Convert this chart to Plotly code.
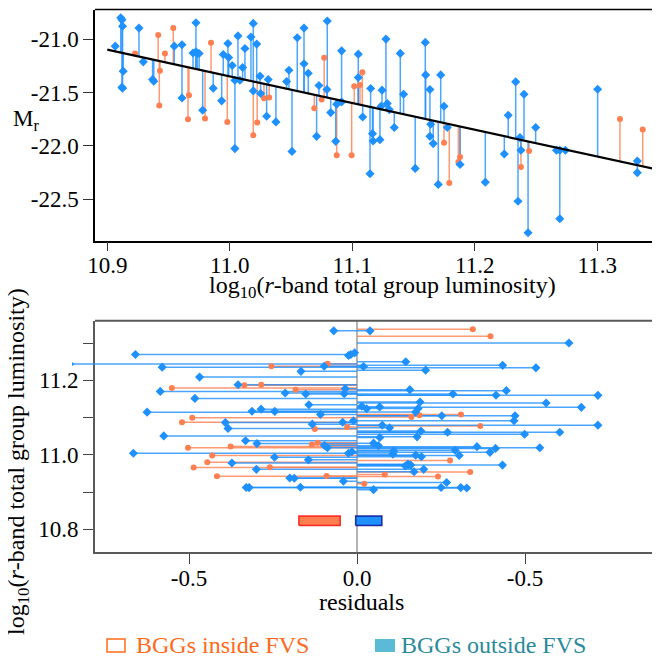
import numpy as np
import plotly.graph_objects as go

# BGGs outside the FVS (blue): log10 group luminosity, absolute magnitude M_r
out_logl = [10.9065, 10.9110, 10.9120, 10.9125, 10.9130, 10.9120, 10.9125, 10.9259,
            10.9294, 10.9370, 10.9380, 10.9547, 10.9610, 10.9610, 10.9724, 10.9700,
            10.9724, 10.9735, 10.9750, 10.9779, 10.9865, 10.9934, 10.9947, 10.9985,
            10.9991, 11.0020, 11.0042, 11.0042, 11.0067, 11.0083, 11.0105, 11.0124,
            11.0173, 11.0192, 11.0192, 11.0220, 11.0247, 11.0252, 11.0301, 11.0314,
            11.0377, 11.0464, 11.0483, 11.0508, 11.0551, 11.0606, 11.0606, 11.0641,
            11.0709, 11.0728, 11.0793, 11.0796, 11.0824, 11.0865, 11.0873, 11.0913,
            11.0913, 11.1049, 11.1049, 11.1085, 11.1150, 11.1145, 11.1165, 11.1170,
            11.1226, 11.1243, 11.1235, 11.1275, 11.1286, 11.1302, 11.1343, 11.1392,
            11.1419, 11.1514, 11.1596, 11.1599, 11.1634, 11.1640, 11.1634, 11.1661,
            11.1702, 11.1722, 11.1749, 11.1776, 11.1880, 11.2086, 11.2241, 11.2273,
            11.2334, 11.2353, 11.2369, 11.2377, 11.2402, 11.2435, 11.2497, 11.2667,
            11.2694, 11.2694, 11.2740, 11.3003, 11.3327, 11.3327]
out_mr = [-21.066, -20.800, -20.820, -20.880, -21.300, -21.450, -21.460, -20.897,
          -21.213, -21.378, -21.394, -21.066, -21.053, -21.551, -20.847, -21.130,
          -21.120, -21.130, -21.135, -21.666, -21.460, -21.578, -21.144, -21.041,
          -21.172, -21.247, -21.385, -22.025, -20.970, -21.385, -21.266, -21.088,
          -20.980, -20.853, -21.485, -21.047, -21.347, -21.509, -21.722, -21.378,
          -21.775, -21.397, -21.291, -22.051, -20.988, -20.897, -21.231, -21.319,
          -21.910, -21.434, -21.472, -20.831, -21.688, -21.957, -21.610, -21.110,
          -21.588, -21.141, -21.359, -21.729, -21.462, -22.260, -21.885, -21.954,
          -21.941, -21.478, -21.629, -21.000, -21.603, -21.660, -21.828, -21.134,
          -21.516, -22.210, -21.031, -21.335, -21.472, -21.797, -21.910, -21.978,
          -22.360, -21.335, -21.629, -21.828, -22.173, -22.339, -22.076, -21.713,
          -21.400, -22.517, -21.922, -22.041, -21.516, -22.813, -21.828, -22.041,
          -22.041, -22.682, -22.041, -21.469, -22.142, -22.250]

# BGGs inside the FVS (orange)
in_logl = [10.9227, 10.9416, 10.9430, 10.9425, 10.9471, 10.9539, 10.9667, 10.9659,
           10.9798, 10.9847, 10.9980, 11.0192, 11.0224, 11.0279, 11.0322, 11.0690,
           11.0750, 11.0771, 11.0873, 11.0995, 11.1016, 11.1063, 11.1082, 11.1749,
           11.1792, 11.1866, 11.1880, 11.2377, 11.2443, 11.3185, 11.3371]
in_mr = [-21.134, -20.962, -21.297, -21.622, -21.134, -20.897, -21.525, -21.750,
         -21.744, -21.034, -21.775, -21.900, -21.781, -21.553, -21.547, -21.647,
         -21.566, -21.175, -22.088, -22.088, -21.441, -21.429, -21.310, -21.969,
         -22.348, -22.151, -22.104, -22.198, -22.047, -21.748, -21.847]

# fitted relation, read at its two ends
fit_logl = [10.90, 11.35]
fit_mr = [-21.099, -22.224]

# summary boxes under the residuals (residual span, luminosity span)
in_box = [-0.173, -0.050]
out_box = [-0.004, 0.074]
box_logl = [10.810, 10.836]

top_xticks = [10.9, 11.0, 11.1, 11.2, 11.3]
top_yticks = [-21.0, -21.5, -22.0, -22.5]
bot_xticks = [-0.5, 0.0, 0.5]
bot_xlabels = ["-0.5", "0.0", "-0.5"]
bot_yticks = [10.8, 10.9, 11.0, 11.1, 11.2, 11.3]
bot_ylabels = ["10.8", "", "11.0", "", "11.2", ""]

ORANGE = "#FF7F50"
BLUE = "#1E90FF"
FONT = "Liberation Serif"
# the page body adds an 8px margin, so the figure is a bit smaller than the window
OFF = 8
W, H = 660 - OFF, 657 - OFF


def px(v):
    return (v - OFF) / W


def py(v):
    return 1 - (v - OFF) / H


def fit_at(x):
    return np.interp(x, fit_logl, fit_mr)


def vsegs(xs, y0s, y1s):
    xx, yy = [], []
    for x, a, b in zip(xs, y0s, y1s):
        xx += [x, x, None]
        yy += [a, b, None]
    return xx, yy


def hsegs(ys, x1s):
    xx, yy = [], []
    for y, b in zip(ys, x1s):
        xx += [0, b, None]
        yy += [y, y, None]
    return xx, yy


def label(text, x, y, size=24, color="black", angle=0, xanchor="center"):
    return dict(text=text, x=px(x), y=py(y), xref="paper", yref="paper",
                xanchor=xanchor, yanchor="middle", showarrow=False, textangle=angle,
                font=dict(family=FONT, size=size, color=color))


fig = go.Figure()

groups = [
    (in_logl, in_mr, ORANGE, "rgba(255,127,80,0.8)", "circle", 6),
    (out_logl, out_mr, BLUE, "rgba(30,144,255,0.8)", "diamond", 7),
]

# top panel: magnitudes with a drop line to the fit
for logl, mr, col, lcol, sym, size in groups:
    logl = np.array(logl)
    mr = np.array(mr)
    xx, yy = vsegs(logl, mr, fit_at(logl))
    fig.add_trace(go.Scatter(x=xx, y=yy, mode="lines", line=dict(color=lcol, width=1.5),
                             xaxis="x", yaxis="y", hoverinfo="skip"))
for logl, mr, col, lcol, sym, size in groups:
    fig.add_trace(go.Scatter(x=logl, y=mr, mode="markers",
                             marker=dict(color=col, symbol=sym, size=size, line=dict(width=0)),
                             xaxis="x", yaxis="y"))
fig.add_trace(go.Scatter(x=fit_logl, y=fit_mr, mode="lines",
                         line=dict(color="black", width=2.2), xaxis="x", yaxis="y"))

# bottom panel: residuals from the fit
for box, fill, edge in [(in_box, ORANGE, "rgba(255,0,0,0.8)"),
                        (out_box, BLUE, "rgba(0,0,139,0.8)")]:
    fig.add_trace(go.Scatter(x=box + box[::-1] + box[:1],
                             y=[box_logl[0]] * 2 + [box_logl[1]] * 2 + [box_logl[0]],
                             fill="toself", fillcolor=fill, mode="lines",
                             line=dict(color=edge, width=1.5),
                             xaxis="x2", yaxis="y2"))

for logl, mr, col, lcol, sym, size in groups:
    logl = np.array(logl)
    res = np.array(mr) - fit_at(logl)
    xx, yy = hsegs(logl, res)
    fig.add_trace(go.Scatter(x=xx, y=yy, mode="lines", line=dict(color=lcol, width=1.5),
                             xaxis="x3", yaxis="y2", hoverinfo="skip"))
for logl, mr, col, lcol, sym, size in groups:
    logl = np.array(logl)
    res = np.array(mr) - fit_at(logl)
    fig.add_trace(go.Scatter(x=res, y=logl, mode="markers",
                             marker=dict(color=col, symbol=sym, size=size, line=dict(width=0)),
                             xaxis="x3", yaxis="y2"))

tickfont = dict(family=FONT, size=23, color="black")
top_ax = dict(showgrid=False, zeroline=False, showline=True, linecolor="black", linewidth=1.5,
              ticks="outside", ticklen=10, tickwidth=1.2, tickcolor="#333", tickfont=tickfont,
              automargin=False)
bot_ax = dict(showgrid=False, showline=True, linecolor="#5a5a5a", linewidth=2,
              ticks="outside", ticklen=10, tickwidth=1.2, tickcolor="#444", tickfont=tickfont,
              automargin=False)

xdom = [px(95), px(660)]
xres0 = (95 - 357) / 336
xres1 = (660 - 357) / 336
xres_wide = (72 - 357) / 336

fig.update_layout(
    template="none",
    width=W, height=H,
    margin=dict(l=0, r=0, t=0, b=0, pad=0),
    paper_bgcolor="white", plot_bgcolor="rgba(0,0,0,0)",
    showlegend=False,
    font=dict(family=FONT, color="black"),
    xaxis=dict(top_ax, domain=xdom, anchor="y", range=[10.890, 11.3512], ticklen=9,
               ticklabelstandoff=-6,
               tickvals=top_xticks, ticktext=["%.1f" % v for v in top_xticks]),
    yaxis=dict(top_ax, domain=[py(240.5), py(9.5)], anchor="x", range=[-22.885, -20.723],
               tickvals=top_yticks, ticktext=["%.1f" % v for v in top_yticks]),
    xaxis2=dict(bot_ax, domain=xdom, anchor="y2", range=[xres0, xres1],
                ticklabelstandoff=-5,
                tickvals=bot_xticks, ticktext=bot_xlabels,
                zeroline=True, zerolinecolor="#b4b4b4", zerolinewidth=2),
    yaxis2=dict(bot_ax, domain=[py(551.7), py(320.7)], anchor="x2", range=[10.740, 11.360],
                zeroline=False, tickvals=bot_yticks, ticktext=bot_ylabels),
    xaxis3=dict(domain=[px(72), px(660)], anchor="y2", range=[xres_wide, xres1],
                visible=False, showgrid=False, zeroline=False, automargin=False),
    shapes=[
        dict(type="line", xref="x domain", yref="y domain", x0=0, x1=1, y0=1, y1=1,
             line=dict(color="black", width=1.5)),
        dict(type="line", xref="x2 domain", yref="y2 domain", x0=0, x1=1, y0=1, y1=1,
             line=dict(color="#5a5a5a", width=2)),
        # legend keys
        dict(type="rect", xref="paper", yref="paper", x0=px(107), x1=px(125),
             y0=py(652), y1=py(639), line=dict(color="#FF6A1A", width=1.5),
             fillcolor="white"),
        dict(type="rect", xref="paper", yref="paper", x0=px(375), x1=px(395),
             y0=py(652), y1=py(639), line=dict(width=0), fillcolor="#5BBAD5"),
    ],
    annotations=[
        label("M<sub>r</sub>", 26, 120, size=23),
        label("log<sub>10</sub>(<i>r</i>-band total group luminosity)", 382, 287),
        label("residuals", 361, 602),
        label("log<sub>10</sub>(<i>r</i>-band total group luminosity)", 18, 462, angle=-90),
        label("BGGs inside FVS", 134, 645, color="#FF6A1A", xanchor="left"),
        label("BGGs outside FVS", 399, 645, color="#2A8A9B", xanchor="left"),
    ],
)

fig.write_html("out.html")
